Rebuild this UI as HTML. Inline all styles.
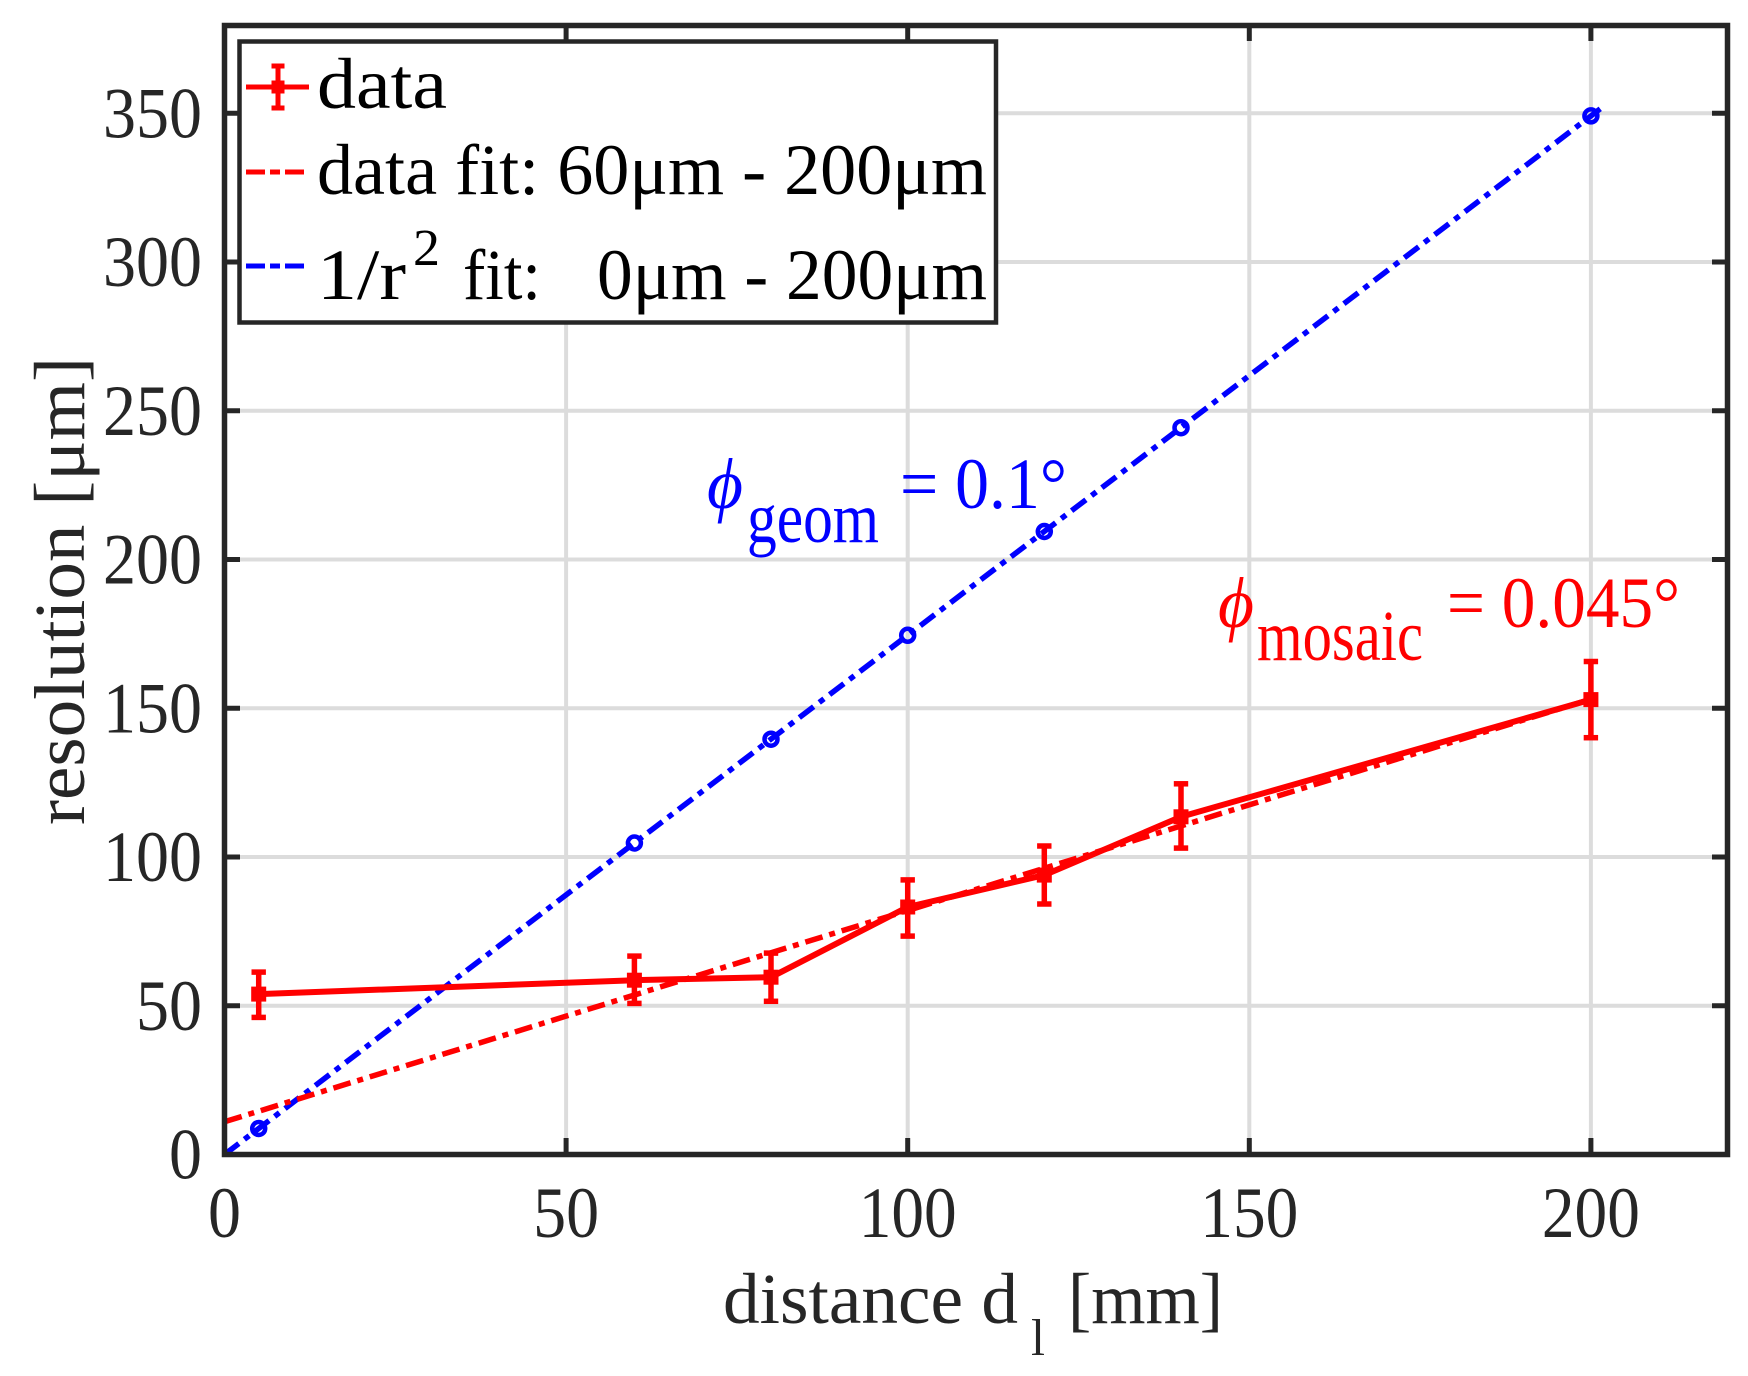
<!DOCTYPE html>
<html>
<head>
<meta charset="utf-8">
<style>
html,body{margin:0;padding:0;background:#fff;}
svg{display:block;}
text{font-family:"Liberation Serif","DejaVu Serif",serif;}
</style>
</head>
<body>
<svg width="1748" height="1376" viewBox="0 0 1748 1376" xmlns="http://www.w3.org/2000/svg">
<rect x="0" y="0" width="1748" height="1376" fill="#fff"/>

<!-- grid -->
<g stroke="#dcdcdc" stroke-width="4" fill="none">
  <line x1="566.1" y1="25.5" x2="566.1" y2="1154.5"/>
  <line x1="907.7" y1="25.5" x2="907.7" y2="1154.5"/>
  <line x1="1249.3" y1="25.5" x2="1249.3" y2="1154.5"/>
  <line x1="1590.9" y1="25.5" x2="1590.9" y2="1154.5"/>
  <line x1="224.5" y1="1005.75" x2="1727.5" y2="1005.75"/>
  <line x1="224.5" y1="857" x2="1727.5" y2="857"/>
  <line x1="224.5" y1="708.25" x2="1727.5" y2="708.25"/>
  <line x1="224.5" y1="559.5" x2="1727.5" y2="559.5"/>
  <line x1="224.5" y1="410.75" x2="1727.5" y2="410.75"/>
  <line x1="224.5" y1="262" x2="1727.5" y2="262"/>
  <line x1="224.5" y1="113.25" x2="1727.5" y2="113.25"/>
</g>

<!-- blue 1/r^2 fit -->
<line x1="224.5" y1="1154.5" x2="1601.1" y2="108.2" stroke="#0000ff" stroke-width="5.5" stroke-dasharray="18 7 6 7"/>
<g stroke="#0000ff" stroke-width="4.5" fill="none">
  <circle cx="258.7" cy="1128.5" r="6.5"/>
  <circle cx="634.4" cy="843.0" r="6.5"/>
  <circle cx="771.0" cy="739.2" r="6.5"/>
  <circle cx="907.7" cy="635.3" r="6.5"/>
  <circle cx="1044.3" cy="531.5" r="6.5"/>
  <circle cx="1181.0" cy="427.7" r="6.5"/>
  <circle cx="1590.9" cy="115.9" r="6.5"/>
</g>

<!-- red data fit -->
<line x1="224.5" y1="1121.8" x2="1601.1" y2="696.0" stroke="#ff0000" stroke-width="5.5" stroke-dasharray="18 7 6 7"/>

<!-- red data error bars -->
<g stroke="#ff0000" stroke-width="5.5" fill="none">
  <line x1="258.7" y1="972.1" x2="258.7" y2="1017.4"/><line x1="251.5" y1="972.1" x2="265.9" y2="972.1"/><line x1="251.5" y1="1017.4" x2="265.9" y2="1017.4"/>
  <line x1="634.4" y1="956.1" x2="634.4" y2="1003.4"/><line x1="627.2" y1="956.1" x2="641.6" y2="956.1"/><line x1="627.2" y1="1003.4" x2="641.6" y2="1003.4"/>
  <line x1="771.0" y1="953.1" x2="771.0" y2="1001.3"/><line x1="763.8" y1="953.1" x2="778.2" y2="953.1"/><line x1="763.8" y1="1001.3" x2="778.2" y2="1001.3"/>
  <line x1="907.7" y1="879.9" x2="907.7" y2="936.1"/><line x1="900.5" y1="879.9" x2="914.9" y2="879.9"/><line x1="900.5" y1="936.1" x2="914.9" y2="936.1"/>
  <line x1="1044.3" y1="846.0" x2="1044.3" y2="904.0"/><line x1="1037.1" y1="846.0" x2="1051.5" y2="846.0"/><line x1="1037.1" y1="904.0" x2="1051.5" y2="904.0"/>
  <line x1="1181.0" y1="783.8" x2="1181.0" y2="848.1"/><line x1="1173.8" y1="783.8" x2="1188.2" y2="783.8"/><line x1="1173.8" y1="848.1" x2="1188.2" y2="848.1"/>
  <line x1="1590.9" y1="661.5" x2="1590.9" y2="737.7"/><line x1="1583.7" y1="661.5" x2="1598.1" y2="661.5"/><line x1="1583.7" y1="737.7" x2="1598.1" y2="737.7"/>
</g>
<polyline points="258.7,994.1 634.4,980.2 771.0,977.2 907.7,907.0 1044.3,875.1 1181.0,816.8 1590.9,699.6" fill="none" stroke="#ff0000" stroke-width="6" stroke-linejoin="round"/>
<g fill="#ff0000">
  <rect x="251.2" y="986.6" width="15" height="15"/>
  <rect x="626.9" y="972.7" width="15" height="15"/>
  <rect x="763.5" y="969.7" width="15" height="15"/>
  <rect x="900.2" y="899.5" width="15" height="15"/>
  <rect x="1036.8" y="867.6" width="15" height="15"/>
  <rect x="1173.5" y="809.3" width="15" height="15"/>
  <rect x="1583.4" y="692.1" width="15" height="15"/>
</g>

<!-- annotations -->
<g fill="#0000ff" font-size="72">
  <text x="707" y="508" font-style="italic" textLength="36" lengthAdjust="spacingAndGlyphs">ϕ</text>
  <text x="747" y="542" textLength="132" lengthAdjust="spacingAndGlyphs">geom</text>
  <text x="900" y="508" textLength="167" lengthAdjust="spacingAndGlyphs">= 0.1°</text>
</g>
<g fill="#ff0000" font-size="72">
  <text x="1218" y="627" font-style="italic" textLength="36" lengthAdjust="spacingAndGlyphs">ϕ</text>
  <text x="1257" y="660" textLength="166" lengthAdjust="spacingAndGlyphs">mosaic</text>
  <text x="1447" y="627" textLength="233" lengthAdjust="spacingAndGlyphs">= 0.045°</text>
</g>

<!-- axes box -->
<rect x="224.5" y="25.5" width="1503" height="1129" fill="none" stroke="#262626" stroke-width="5.5"/>
<!-- ticks -->
<g stroke="#262626" stroke-width="5">
  <line x1="566.1" y1="1154.5" x2="566.1" y2="1138"/>
  <line x1="907.7" y1="1154.5" x2="907.7" y2="1138"/>
  <line x1="1249.3" y1="1154.5" x2="1249.3" y2="1138"/>
  <line x1="1590.9" y1="1154.5" x2="1590.9" y2="1138"/>
  <line x1="566.1" y1="25.5" x2="566.1" y2="41"/>
  <line x1="907.7" y1="25.5" x2="907.7" y2="41"/>
  <line x1="1249.3" y1="25.5" x2="1249.3" y2="41"/>
  <line x1="1590.9" y1="25.5" x2="1590.9" y2="41"/>
  <line x1="224.5" y1="1005.75" x2="240" y2="1005.75"/>
  <line x1="224.5" y1="857" x2="240" y2="857"/>
  <line x1="224.5" y1="708.25" x2="240" y2="708.25"/>
  <line x1="224.5" y1="559.5" x2="240" y2="559.5"/>
  <line x1="224.5" y1="410.75" x2="240" y2="410.75"/>
  <line x1="224.5" y1="262" x2="240" y2="262"/>
  <line x1="224.5" y1="113.25" x2="240" y2="113.25"/>
  <line x1="1727.5" y1="1005.75" x2="1712" y2="1005.75"/>
  <line x1="1727.5" y1="857" x2="1712" y2="857"/>
  <line x1="1727.5" y1="708.25" x2="1712" y2="708.25"/>
  <line x1="1727.5" y1="559.5" x2="1712" y2="559.5"/>
  <line x1="1727.5" y1="410.75" x2="1712" y2="410.75"/>
  <line x1="1727.5" y1="262" x2="1712" y2="262"/>
  <line x1="1727.5" y1="113.25" x2="1712" y2="113.25"/>
</g>

<!-- tick labels -->
<g fill="#262626" font-size="72">
  <text x="224.5" y="1237" text-anchor="middle" textLength="33" lengthAdjust="spacingAndGlyphs">0</text>
  <text x="566.1" y="1237" text-anchor="middle" textLength="66" lengthAdjust="spacingAndGlyphs">50</text>
  <text x="907.7" y="1237" text-anchor="middle" textLength="98" lengthAdjust="spacingAndGlyphs">100</text>
  <text x="1249.3" y="1237" text-anchor="middle" textLength="98" lengthAdjust="spacingAndGlyphs">150</text>
  <text x="1590.9" y="1237" text-anchor="middle" textLength="98" lengthAdjust="spacingAndGlyphs">200</text>

  <text x="202" y="1178.5" text-anchor="end" textLength="33" lengthAdjust="spacingAndGlyphs">0</text>
  <text x="202" y="1029.75" text-anchor="end" textLength="66" lengthAdjust="spacingAndGlyphs">50</text>
  <text x="202" y="881" text-anchor="end" textLength="99" lengthAdjust="spacingAndGlyphs">100</text>
  <text x="202" y="732.25" text-anchor="end" textLength="99" lengthAdjust="spacingAndGlyphs">150</text>
  <text x="202" y="583.5" text-anchor="end" textLength="99" lengthAdjust="spacingAndGlyphs">200</text>
  <text x="202" y="434.75" text-anchor="end" textLength="99" lengthAdjust="spacingAndGlyphs">250</text>
  <text x="202" y="286" text-anchor="end" textLength="99" lengthAdjust="spacingAndGlyphs">300</text>
  <text x="202" y="137.25" text-anchor="end" textLength="99" lengthAdjust="spacingAndGlyphs">350</text>
</g>

<!-- axis labels -->
<g fill="#262626" font-size="72">
  <text x="723" y="1323" textLength="295" lengthAdjust="spacingAndGlyphs">distance d</text>
  <text x="1031" y="1355" font-size="52" textLength="14" lengthAdjust="spacingAndGlyphs">l</text>
  <text x="1068" y="1323" textLength="155" lengthAdjust="spacingAndGlyphs">[mm]</text>
  <text transform="translate(84,591) rotate(-90)" x="0" y="0" text-anchor="middle" textLength="468" lengthAdjust="spacingAndGlyphs">resolution [μm]</text>
</g>

<!-- legend -->
<rect x="239.5" y="41.5" width="756.5" height="281" fill="#fff" stroke="#262626" stroke-width="4.5"/>
<g stroke="#ff0000" stroke-width="5">
  <line x1="246" y1="87" x2="309" y2="87"/>
  <line x1="278" y1="66" x2="278" y2="108"/>
  <line x1="271.5" y1="66" x2="284.5" y2="66"/>
  <line x1="271.5" y1="108" x2="284.5" y2="108"/>
</g>
<rect x="271.5" y="80.5" width="13" height="13" fill="#ff0000"/>
<line x1="246" y1="172" x2="309" y2="172" stroke="#ff0000" stroke-width="5" stroke-dasharray="19 5 10 5"/>
<line x1="246" y1="266" x2="309" y2="266" stroke="#0000ff" stroke-width="5" stroke-dasharray="19 5 10 5"/>
<g fill="#000" font-size="72">
  <text x="317" y="108" textLength="130" lengthAdjust="spacingAndGlyphs">data</text>
  <text x="317" y="194" textLength="670" lengthAdjust="spacingAndGlyphs">data fit: 60μm - 200μm</text>
  <text x="317" y="299" textLength="89" lengthAdjust="spacingAndGlyphs">1/r</text>
  <text x="413" y="265" font-size="52" textLength="27" lengthAdjust="spacingAndGlyphs">2</text>
  <text x="463" y="299" textLength="78" lengthAdjust="spacingAndGlyphs">fit:</text>
  <text x="597" y="299" textLength="390" lengthAdjust="spacingAndGlyphs">0μm - 200μm</text>
</g>
</svg>
</body>
</html>
